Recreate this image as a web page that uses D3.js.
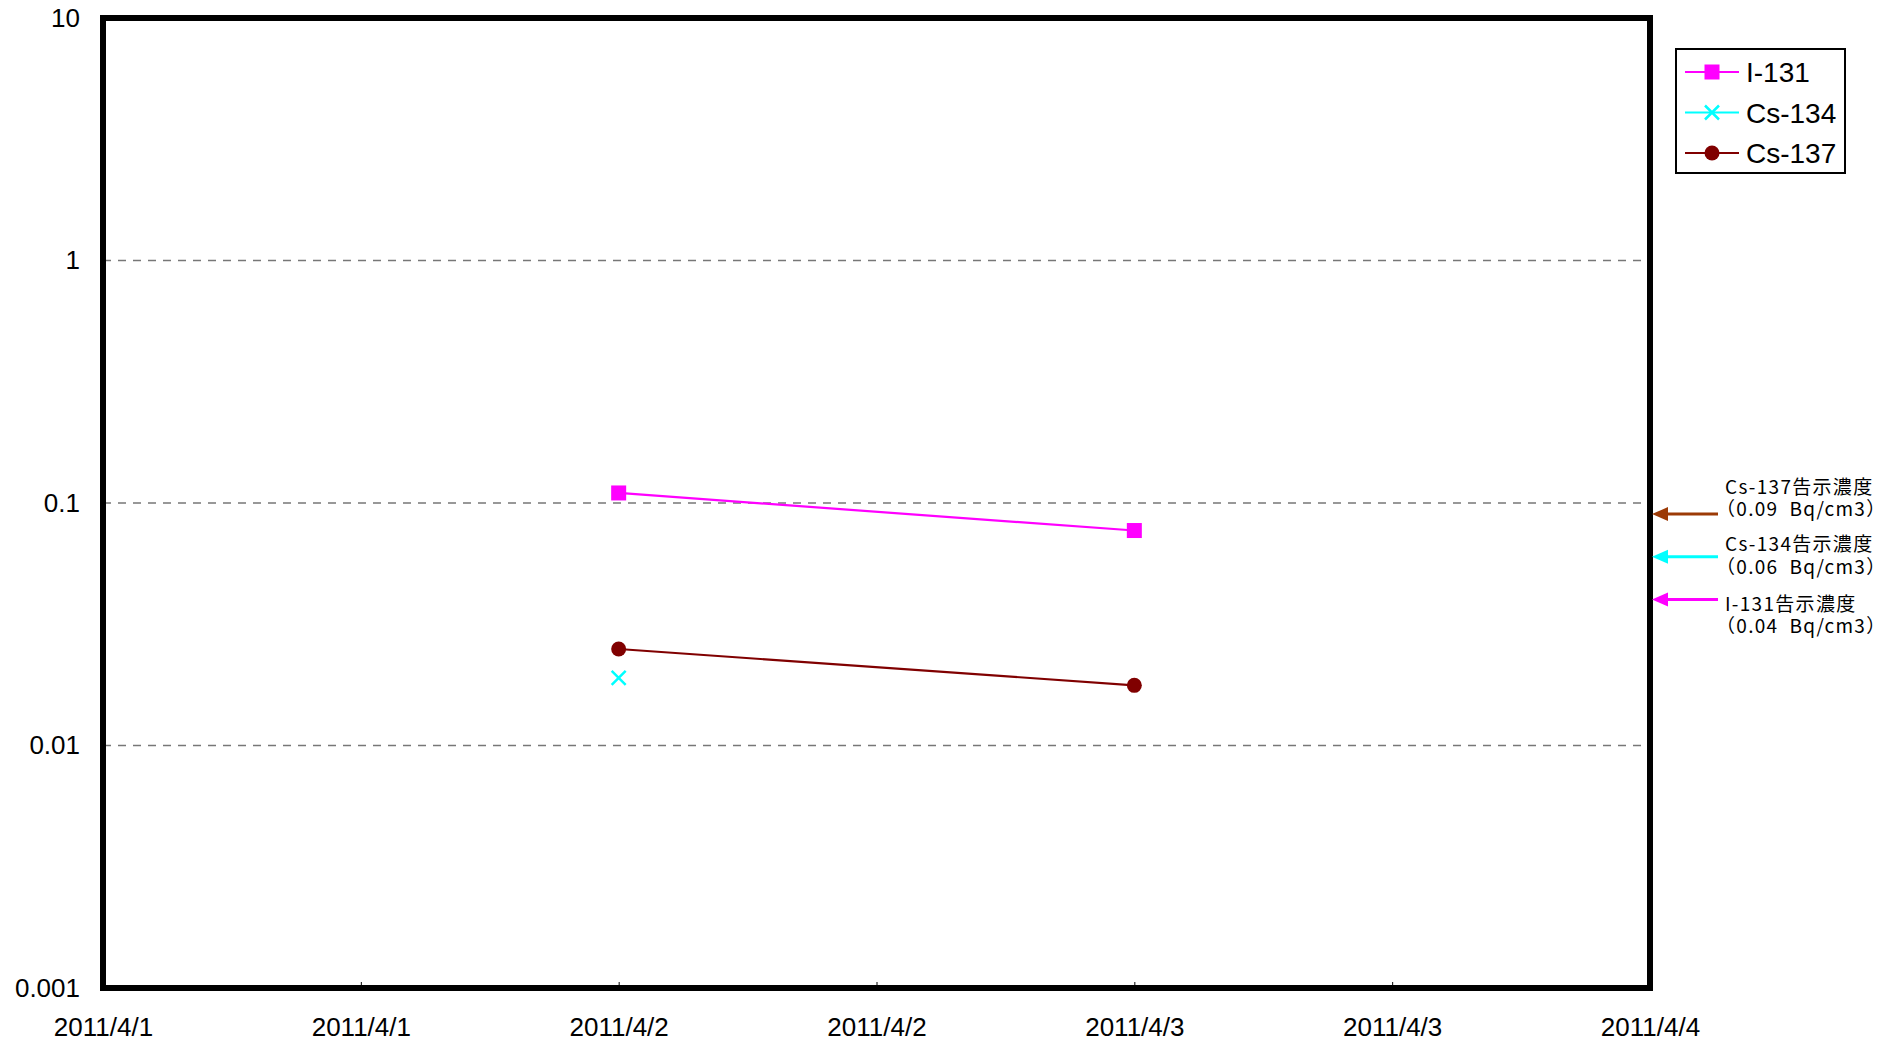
<!DOCTYPE html>
<html>
<head>
<meta charset="utf-8">
<script src="https://cdn.jsdelivr.net/npm/d3@7"></script>
<style>
  html, body { margin: 0; padding: 0; background: #fff; }
  svg { display: block; }
</style>
</head>
<body>
<svg id="chart" width="1903" height="1047"></svg>
<script>
// data
const dates = ["2011-04-02", "2011-04-03"];
const i131 = [0.11, 0.077];
const cs134 = [0.019, null];
const cs137 = [0.025, 0.0177];

const xDomain = ["2011-04-01", "2011-04-04"];
const yTicks = [0.001, 0.01, 0.1, 1, 10];
const yTickLabels = ["0.001", "0.01", "0.1", "1", "10"];
const gridValues = [0.01, 0.1, 1];

const seriesNames = ["I-131", "Cs-134", "Cs-137"];
const limitValues = [0.09, 0.06, 0.04];
const limitTitles = ["Cs-137告示濃度", "Cs-134告示濃度", "I-131告示濃度"];
const limitUnits = ["（0.09  Bq/cm3）", "（0.06  Bq/cm3）", "（0.04  Bq/cm3）"];

const W = 1903, H = 1047;
const plot = { left: 103, top: 18, right: 1650, bottom: 988 };
const colors = { "I-131": "#ff00ff", "Cs-134": "#00ffff", "Cs-137": "#800000" };
const limitColors = ["#9c3a06", "#00ffff", "#ff00ff"];

const parse = d3.timeParse("%Y-%m-%d");
const svg = d3.select("#chart");

const x = d3.scaleTime()
  .domain(xDomain.map(parse))
  .range([plot.left, plot.right]);

const y = d3.scaleLog()
  .domain([0.001, 10])
  .range([plot.bottom, plot.top]);

// grid
svg.append("g")
  .selectAll("line")
  .data(gridValues)
  .join("line")
  .attr("x1", plot.left)
  .attr("x2", plot.right)
  .attr("y1", (d) => y(d))
  .attr("y2", (d) => y(d))
  .attr("stroke", "#777")
  .attr("stroke-width", 1.6)
  .attr("stroke-dasharray", "8,7");

// x axis
const xAxis = d3.axisBottom(x)
  .ticks(d3.timeHour.every(12))
  .tickSize(-6)
  .tickPadding(30)
  .tickFormat(d3.timeFormat("%Y/%-m/%-d"));

const gx = svg.append("g")
  .attr("transform", `translate(0,${plot.bottom})`)
  .call(xAxis);
gx.select(".domain").remove();
gx.selectAll(".tick line").attr("stroke", "#000").attr("stroke-width", 1);
gx.selectAll("text")
  .style("font-family", "'Liberation Sans', Arial, sans-serif")
  .style("font-size", "26px")
  .attr("fill", "#000");

// y axis
const yAxis = d3.axisLeft(y)
  .tickValues(yTicks)
  .tickSize(0)
  .tickPadding(23)
  .tickFormat((d, i) => yTickLabels[i]);

const gy = svg.append("g")
  .attr("transform", `translate(${plot.left},0)`)
  .call(yAxis);
gy.select(".domain").remove();
gy.selectAll("text")
  .style("font-family", "'Liberation Sans', Arial, sans-serif")
  .style("font-size", "26px")
  .attr("fill", "#000");

// frame
svg.append("rect")
  .attr("x", plot.left)
  .attr("y", plot.top)
  .attr("width", plot.right - plot.left)
  .attr("height", plot.bottom - plot.top)
  .attr("fill", "none")
  .attr("stroke", "#000")
  .attr("stroke-width", 6);

// series
const seriesValues = { "I-131": i131, "Cs-134": cs134, "Cs-137": cs137 };
const line = d3.line()
  .defined((d) => d.v != null)
  .x((d) => x(d.t))
  .y((d) => y(d.v));

function drawMarker(g, name, cx, cy) {
  const c = colors[name];
  if (name === "I-131") {
    g.append("rect")
      .attr("x", cx - 7.5).attr("y", cy - 7.5)
      .attr("width", 15).attr("height", 15)
      .attr("fill", c);
  } else if (name === "Cs-134") {
    g.append("path")
      .attr("d", `M${cx - 7},${cy - 7}L${cx + 7},${cy + 7}M${cx - 7},${cy + 7}L${cx + 7},${cy - 7}`)
      .attr("stroke", c)
      .attr("stroke-width", 2.5)
      .attr("fill", "none");
  } else {
    g.append("circle")
      .attr("cx", cx).attr("cy", cy).attr("r", 7.5)
      .attr("fill", c);
  }
}

const series = svg.append("g");
seriesNames.forEach((name) => {
  const pts = dates.map((d, i) => ({ t: parse(d), v: seriesValues[name][i] }));
  series.append("path")
    .datum(pts)
    .attr("d", line)
    .attr("fill", "none")
    .attr("stroke", colors[name])
    .attr("stroke-width", 2.2);
  pts.filter((p) => p.v != null).forEach((p) => {
    drawMarker(series, name, x(p.t), y(p.v));
  });
});

// legend
const legend = svg.append("g");
legend.append("rect")
  .attr("x", 1676).attr("y", 49)
  .attr("width", 169).attr("height", 124)
  .attr("fill", "#fff")
  .attr("stroke", "#000")
  .attr("stroke-width", 2);

seriesNames.forEach((name, i) => {
  const ly = 72 + i * 40.5;
  legend.append("line")
    .attr("x1", 1685).attr("x2", 1739)
    .attr("y1", ly).attr("y2", ly)
    .attr("stroke", colors[name])
    .attr("stroke-width", 2.2);
  drawMarker(legend, name, 1712, ly);
  legend.append("text")
    .attr("x", 1746)
    .attr("y", ly)
    .attr("dy", "0.36em")
    .style("font-family", "'Liberation Sans', Arial, sans-serif")
    .style("font-size", "28px")
    .text(name);
});

// limit annotations
const notes = svg.append("g");
const noteY = [[485, 507], [542, 565], [602, 624]];
limitValues.forEach((v, i) => {
  const ay = y(v);
  notes.append("line")
    .attr("x1", 1666).attr("x2", 1718)
    .attr("y1", ay).attr("y2", ay)
    .attr("stroke", limitColors[i])
    .attr("stroke-width", 3);
  notes.append("path")
    .attr("d", `M1652,${ay}L1668,${ay - 7}L1668,${ay + 7}Z`)
    .attr("fill", limitColors[i]);
  [limitTitles[i], limitUnits[i]].forEach((t, j) => {
    notes.append("text")
      .attr("x", j === 0 ? 1725 : 1716)
      .attr("y", noteY[i][j])
      .attr("dominant-baseline", "central")
      .style("font-family", "'Noto Sans CJK JP', sans-serif")
      .style("font-size", "19px")
      .style("letter-spacing", "1.3px")
      .style("white-space", "pre")
      .text(t);
  });
});
</script>
</body>
</html>
